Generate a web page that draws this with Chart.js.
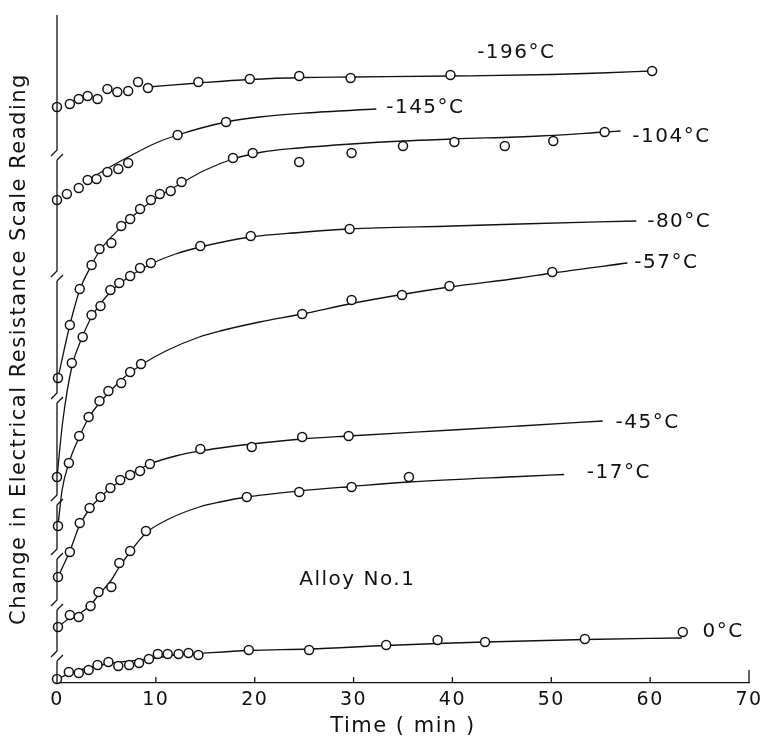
<!DOCTYPE html>
<html>
<head>
<meta charset="utf-8">
<script src="https://cdn.jsdelivr.net/npm/chart.js@4.4.0/dist/chart.umd.min.js"></script>
<style>
  html, body { margin: 0; padding: 0; background: #fff; }
</style>
</head>
<body>
<canvas id="myChart" width="771" height="740"></canvas>
<script>
// Alloy No.1 - resistance change vs. ageing time, each curve on its own shifted zero
const temps = ['-196°C', '-145°C', '-104°C', '-80°C', '-57°C', '-45°C', '-17°C', '0°C'];
const xTicks = [0, 10, 20, 30, 40, 50, 60, 70];

// measured points [min, reading]
const pts196 = [[0.0,57.6],[1.3,57.9],[2.2,58.4],[3.1,58.7],[4.1,58.4],[5.1,59.4],[6.1,59.1],[7.2,59.2],[8.2,60.1],[9.2,59.5],[14.3,60.1],[19.5,60.4],[24.5,60.7],[29.7,60.5],[39.8,60.8],[60.2,61.2]];
const pts145 = [[0.0,48.3],[1.0,48.9],[2.2,49.5],[3.1,50.3],[4.0,50.4],[5.1,51.1],[6.2,51.4],[7.2,52.0],[12.2,54.8],[17.1,56.1]];
const pts104 = [[0.1,30.5],[1.3,35.8],[2.3,39.4],[3.5,41.8],[4.3,43.4],[5.5,44.0],[6.5,45.7],[7.4,46.4],[8.4,47.4],[9.5,48.3],[10.4,48.9],[11.5,49.2],[12.6,50.1],[17.8,52.5],[19.8,53.0],[24.5,52.1],[29.8,53.0],[35.0,53.7],[40.2,54.1],[45.3,53.7],[50.2,54.2],[55.4,55.1]];
const pts80 = [[0.0,20.6],[1.5,32.0],[2.6,34.6],[3.5,36.8],[4.4,37.7],[5.4,39.3],[6.3,40.0],[7.4,40.7],[8.4,41.5],[9.5,42.0],[14.5,43.7],[19.6,44.7],[29.6,45.4]];
const pts57 = [[0.1,15.7],[1.2,22.0],[2.25,24.7],[3.2,26.6],[4.3,28.2],[5.2,29.2],[6.5,30.0],[7.4,31.1],[8.5,31.9],[24.8,36.9],[29.8,38.3],[34.9,38.8],[39.7,39.7],[50.1,41.1]];
const pts45 = [[0.1,10.6],[1.3,13.1],[2.3,16.0],[3.3,17.5],[4.4,18.6],[5.4,19.5],[6.4,20.3],[7.4,20.8],[8.4,21.2],[9.4,21.9],[14.5,23.4],[19.7,23.6],[24.8,24.6],[29.5,24.7]];
const pts17 = [[0.1,5.6],[1.3,6.8],[2.2,6.6],[3.4,7.7],[4.2,9.1],[5.5,9.6],[6.3,12.0],[7.4,13.2],[9.0,15.2],[19.2,18.6],[24.5,19.1],[29.8,19.6],[35.6,20.6]];
const pts0 = [[0.0,0.4],[1.2,1.1],[2.2,1.0],[3.2,1.3],[4.1,1.8],[5.2,2.1],[6.2,1.7],[7.3,1.8],[8.3,2.0],[9.3,2.4],[10.2,2.9],[11.2,2.9],[12.3,2.9],[13.3,3.0],[14.3,2.8],[19.4,3.3],[25.5,3.3],[33.3,3.8],[38.5,4.3],[43.3,4.1],[53.4,4.4],[63.3,5.1]];

// hand drawn curves through the points
const fit196 = [[9.2,59.6],[14.3,60.0],[19.5,60.35],[25,60.55],[30,60.6],[40,60.7],[50,60.85],[55,61.0],[60.2,61.2]];
const fit145 = [[3.0,50.2],[5.0,51.4],[7.2,52.6],[10,54.0],[12.2,54.8],[17.1,56.1],[20.5,56.6],[25.2,57.0],[32.3,57.4]];
const fit104 = [[0.1,30.5],[1.3,35.8],[2.3,39.3],[3.5,41.8],[4.3,43.2],[6.5,45.6],[8.4,47.3],[10.4,48.7],[12.6,50.0],[15,51.3],[17.8,52.4],[20.8,53.1],[24.5,53.5],[29.8,53.9],[35,54.2],[40.2,54.4],[48.8,54.7],[55.4,55.1],[57,55.2]];
const fit80 = [[0.0,20.6],[0.6,26.3],[1.5,31.6],[2.6,34.7],[3.5,36.6],[5.4,39.1],[7.4,40.7],[9.5,41.9],[12,42.9],[14.5,43.6],[19.6,44.6],[24.5,45.05],[29.6,45.4],[40,45.7],[46.8,45.9],[58.6,46.2]];
const fit57 = [[0.1,15.7],[0.5,19.2],[1.2,22.0],[2.25,24.6],[3.2,26.5],[4.3,28.0],[6.5,30.3],[8.5,31.8],[11,33.2],[14.4,34.6],[16.5,35.2],[20.5,36.1],[24.8,36.9],[29.8,37.95],[34.9,38.85],[39.7,39.6],[46.8,40.5],[50.1,41.0],[57.7,42.0]];
const fit45 = [[0.1,10.6],[1.3,13.2],[2.3,15.8],[3.3,17.4],[4.4,18.6],[6.4,20.2],[8.4,21.4],[9.4,21.9],[12,22.7],[14.5,23.2],[16.5,23.5],[19.7,23.9],[24.8,24.4],[29.5,24.7],[40,25.3],[46.8,25.7],[55.2,26.2]];
const fit17 = [[0.1,5.6],[1.3,6.5],[2.2,6.9],[3.4,7.8],[4.2,8.8],[5.5,10.3],[6.3,11.6],[7.4,13.1],[9.0,15.0],[11.1,16.3],[14.4,17.6],[16.5,18.1],[19.2,18.6],[24.5,19.2],[29.8,19.65],[35.6,20.1],[46.8,20.65],[51.3,20.85]];
const fit0 = [[0.0,0.4],[2,1.2],[5,1.9],[9.3,2.4],[12,2.8],[14.3,2.95],[19.4,3.25],[25.5,3.4],[33.3,3.75],[38.5,3.95],[43.3,4.1],[53.4,4.35],[63.2,4.5]];

const points = [pts196, pts145, pts104, pts80, pts57, pts45, pts17, pts0];
const curves = [fit196, fit145, fit104, fit80, fit57, fit45, fit17, fit0];

// where the curve labels sit, in [min, reading]
const labelAt = [[42.5,63.0],[33.3,57.5],[58.2,54.6],[59.7,46.1],[58.4,42.0],[56.5,26.0],[53.6,21.0],[65.3,5.1]];
const alloyLabel = 'Alloy No.1';
const alloyAt = [24.5, 10.3];
// scale breaks on the y axis
const axisBreaks = [52.8, 40.7, 28.5, 18.3, 12.9, 7.8, 2.7];

const ink = '#111';
const font = '"DejaVu Sans", sans-serif';

const datasets = [];
curves.forEach((c) => {
    datasets.push({
        type: 'line',
        data: c.map(([x, y]) => ({ x, y })),
        borderColor: ink,
        borderWidth: 1.3,
        pointRadius: 0,
        cubicInterpolationMode: 'monotone',
        fill: false,
        clip: false,
        order: 2
    });
});
points.forEach((p) => {
    datasets.push({
        type: 'scatter',
        data: p.map(([x, y]) => ({ x, y })),
        pointRadius: 4.5,
        pointBorderWidth: 1.5,
        pointBorderColor: ink,
        pointBackgroundColor: '#fff',
        showLine: false,
        clip: false,
        order: 1
    });
});

const decor = {
    id: 'decor',
    beforeDraw(chart) {
        chart.ctx.letterSpacing = '1.5px';
    },
    afterDraw(chart) {
        const { ctx, scales: { x, y } } = chart;
        ctx.save();
        ctx.strokeStyle = ink;
        ctx.lineWidth = 1.3;
        const x0 = x.getPixelForValue(0);
        let top = y.getPixelForValue(y.max);
        ctx.beginPath();
        axisBreaks.forEach((b) => {
            const yb = y.getPixelForValue(b);
            ctx.moveTo(x0, top);
            ctx.lineTo(x0, yb - 5);
            ctx.lineTo(x0 - 6, yb + 1);
            ctx.moveTo(x0 + 6, yb - 1);
            ctx.lineTo(x0, yb + 5);
            top = yb + 5;
        });
        ctx.moveTo(x0, top);
        ctx.lineTo(x0, y.bottom);
        // ticks point up into the plot
        xTicks.slice(1).forEach((v) => {
            const px = x.getPixelForValue(v);
            ctx.moveTo(px, y.bottom);
            ctx.lineTo(px, y.bottom - (v === 70 ? 13 : 6));
        });
        ctx.stroke();

        ctx.fillStyle = ink;
        ctx.font = '20px ' + font;
        ctx.letterSpacing = '1.5px';
        ctx.textAlign = 'left';
        ctx.textBaseline = 'middle';
        temps.forEach((t, i) => {
            ctx.fillText(t, x.getPixelForValue(labelAt[i][0]), y.getPixelForValue(labelAt[i][1]));
        });
        ctx.fillText(alloyLabel, x.getPixelForValue(alloyAt[0]), y.getPixelForValue(alloyAt[1]));
        ctx.restore();
    }
};

new Chart(document.getElementById('myChart'), {
    type: 'scatter',
    data: { datasets },
    options: {
        responsive: false,
        animation: false,
        layout: { padding: { top: 15, right: 22, left: 0, bottom: 0 } },
        plugins: {
            legend: { display: false },
            tooltip: { enabled: false }
        },
        scales: {
            x: {
                type: 'linear',
                min: 0,
                max: 70,
                afterBuildTicks: (s) => { s.ticks = xTicks.map((v) => ({ value: v })); },
                afterFit: (s) => { s.height = 57; },
                grid: { display: false, drawTicks: false },
                border: { display: true, color: ink, width: 1.3 },
                ticks: { color: ink, padding: 6, font: { family: font, size: 19 } },
                title: {
                    display: true,
                    text: 'Time ( min )',
                    color: ink,
                    padding: { top: 0, bottom: 1 },
                    font: { family: font, size: 21 }
                }
            },
            y: {
                type: 'linear',
                min: 0,
                max: 66.8,
                afterFit: (s) => { s.width = 57; },
                grid: { display: false },
                border: { display: false },
                ticks: { display: false },
                title: {
                    display: true,
                    text: 'Change in Electrical Resistance Scale Reading',
                    color: ink,
                    padding: { top: 7, bottom: 0 },
                    font: { family: font, size: 21 }
                }
            }
        }
    },
    plugins: [decor]
});
</script>
</body>
</html>
